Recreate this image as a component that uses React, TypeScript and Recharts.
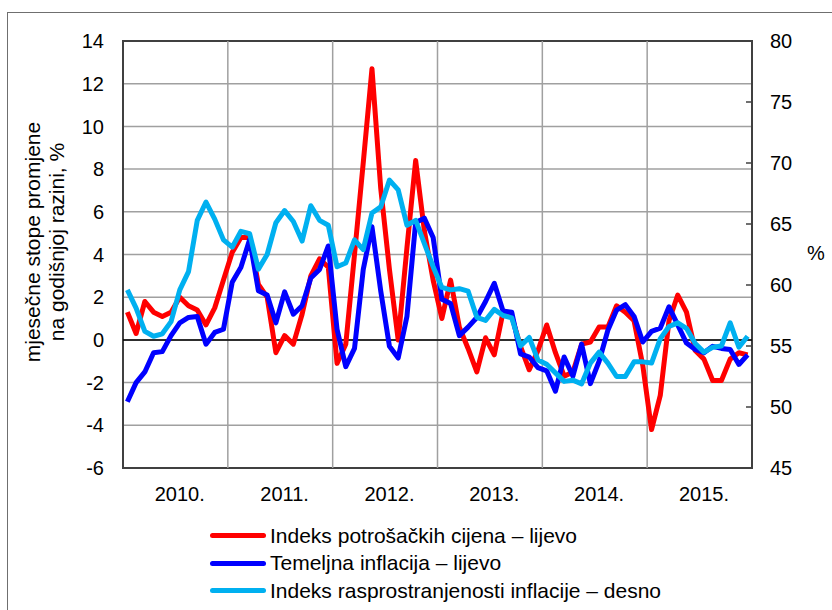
import { LineChart, Line, XAxis, YAxis, CartesianGrid, ReferenceLine, ReferenceArea } from 'recharts';

// monthly, Jan 2010 – Dec 2015
const cpi = [
  1.3, 0.3, 1.8, 1.3, 1.1, 1.3, 2.0, 1.6, 1.4, 0.7, 1.5, 2.8,
  4.1, 4.8, 4.8, 2.6, 2.0, -0.6, 0.2, -0.2, 1.2, 3.0, 3.8, 3.4,
  -1.1, -0.2, 4.0, 8.3, 12.7, 7.1, 3.3, 0.0, 4.3, 8.4, 5.1, 2.8,
  1.0, 2.8, 0.6, -0.4, -1.5, 0.1, -0.7, 1.3, 1.1, -0.3, -1.4, -0.5,
  0.7, -0.6, -1.7, -1.5, -0.2, -0.1, 0.6, 0.6, 1.6, 1.3, 0.9, -1.2,
  -4.2, -2.6, 0.9, 2.1, 1.3, -0.5, -0.9, -1.9, -1.9, -0.9, -0.6, -0.7,
];
const core = [
  -2.9, -2.0, -1.5, -0.6, -0.55, 0.2, 0.8, 1.05, 1.1, -0.2, 0.35, 0.5,
  2.7, 3.4, 4.7, 2.3, 2.1, 0.8, 2.25, 1.2, 1.6, 2.9, 3.3, 4.4,
  0.5, -1.25, -0.4, 3.3, 5.3, 2.3, -0.3, -0.85, 1.1, 5.5, 5.7, 4.8,
  1.9, 1.7, 0.2, 0.6, 1.05, 1.8, 2.65, 1.35, 1.3, -0.65, -0.8, -1.3,
  -1.45, -2.4, -0.8, -1.7, -0.2, -2.05, -1.0, 0.45, 1.4, 1.65, 1.1, -0.1,
  0.4, 0.55, 1.55, 0.7, -0.15, -0.45, -0.6, -0.3, -0.4, -0.45, -1.15, -0.7,
];
const spread = [
  59.6, 58.1, 56.2, 55.8, 56.0, 57.0, 59.6, 61.1, 65.3, 66.8, 65.4, 63.7,
  63.1, 64.4, 64.2, 61.3, 62.5, 65.1, 66.1, 65.2, 63.6, 66.5, 65.3, 64.9,
  61.5, 61.8, 63.7, 62.9, 65.9, 66.4, 68.6, 67.8, 64.9, 65.3, 63.4, 61.5,
  59.8, 59.6, 59.7, 59.5, 57.35, 57.1, 58.0, 57.5, 57.3, 55.0, 55.7, 53.85,
  53.5, 52.8, 52.1, 52.2, 51.9, 53.6, 54.5, 53.6, 52.5, 52.5, 53.7, 53.7,
  53.6, 55.6, 56.6, 56.9, 56.45, 55.2, 54.5, 54.9, 55.0, 56.9, 54.9, 55.8,
];
const years = [2010, 2011, 2012, 2013, 2014, 2015];
const leftTicks = [-6, -4, -2, 0, 2, 4, 6, 8, 10, 12, 14];
const rightTicks = [45, 50, 55, 60, 65, 70, 75, 80];
const leftTitle = ['mjesečne stope promjene', 'na godišnjoj razini, %'];

const series = [
  { key: 'cpi', name: 'Indeks potrošačkih cijena – lijevo', color: '#ff0000', axis: 'left' },
  { key: 'core', name: 'Temeljna inflacija – lijevo', color: '#0000ff', axis: 'left' },
  { key: 'spread', name: 'Indeks rasprostranjenosti inflacije – desno', color: '#00b0f0', axis: 'right' },
];

const data = cpi.map((v, i) => ({ m: i + 0.5, cpi: v, core: core[i], spread: spread[i] }));
const yearCenters = years.map((_, i) => i * 12 + 6.5);
const yearBounds = years.slice(1).map((_, i) => (i + 1) * 12);

const font = "'Liberation Sans', Arial, sans-serif";
const tickStyle = { fontSize: 20, fill: '#000', fontFamily: font };

export default function App() {
  return (
    <div style={{ position: 'absolute', left: 0, top: 0, width: 832, height: 610, overflow: 'hidden', background: '#fff', fontFamily: font }}>
      <div style={{ position: 'absolute', left: 7, top: 12, width: 900, height: 700, border: '1.5px solid #6f6f6f' }} />
      <LineChart
        width={832}
        height={610}
        data={data}
        margin={{ top: 41, right: 10, left: 63, bottom: 102 }}
        style={{ position: 'absolute', left: 0, top: 0 }}
      >
        <CartesianGrid yAxisId="left" vertical={false} stroke="#a0a0a0" strokeWidth={1.5} />
        <XAxis
          dataKey="m"
          type="number"
          domain={[0, 72]}
          ticks={yearCenters}
          tickFormatter={(v: number) => `${years[Math.floor(v / 12)]}.`}
          tick={tickStyle}
          tickLine={false}
          axisLine={false}
          tickSize={0}
          tickMargin={19}
          height={40}
        />
        <YAxis
          yAxisId="left"
          domain={[-6, 14]}
          ticks={leftTicks}
          tick={tickStyle}
          tickLine={false}
          axisLine={false}
          tickSize={0}
          tickMargin={19}
          width={60}
        />
        <YAxis
          yAxisId="right"
          orientation="right"
          domain={[45, 80]}
          ticks={rightTicks}
          tick={tickStyle}
          tickLine={{ stroke: '#404040', strokeWidth: 1.5 }}
          axisLine={false}
          tickSize={-6}
          tickMargin={24}
          width={70}
        />
        {yearBounds.map((x) => (
          <ReferenceLine key={x} yAxisId="left" x={x} stroke="#a0a0a0" strokeWidth={1.5} />
        ))}
        <ReferenceLine yAxisId="left" y={0} stroke="#000" strokeWidth={1.5} />
        {series.map((s) => (
          <Line
            key={s.key}
            yAxisId={s.axis}
            dataKey={s.key}
            name={s.name}
            type="linear"
            stroke={s.color}
            strokeWidth={5}
            strokeLinejoin="round"
            dot={false}
            isAnimationActive={false}
          />
        ))}
        <ReferenceArea yAxisId="left" x1={0} x2={72} y1={-6} y2={14} fill="none" stroke="#404040" strokeWidth={2} ifOverflow="visible" />
      </LineChart>
      <div
        style={{
          position: 'absolute', left: 45, top: 242, transform: 'translate(-50%, -50%) rotate(-90deg)',
          textAlign: 'center', fontSize: 21, lineHeight: '24px', whiteSpace: 'nowrap', color: '#000',
        }}
      >
        {leftTitle.map((l) => <div key={l}>{l}</div>)}
      </div>
      <div style={{ position: 'absolute', left: 807, top: 242, fontSize: 20, color: '#000' }}>%</div>
      <div style={{ position: 'absolute', left: 210, top: 522 }}>
        {series.map((s) => (
          <div key={s.key} style={{ display: 'flex', alignItems: 'center', height: 27.5 }}>
            <div style={{ width: 56, height: 5, background: s.color, borderRadius: 3, marginRight: 4 }} />
            <span style={{ fontSize: 21, color: '#000' }}>{s.name}</span>
          </div>
        ))}
      </div>
    </div>
  );
}
